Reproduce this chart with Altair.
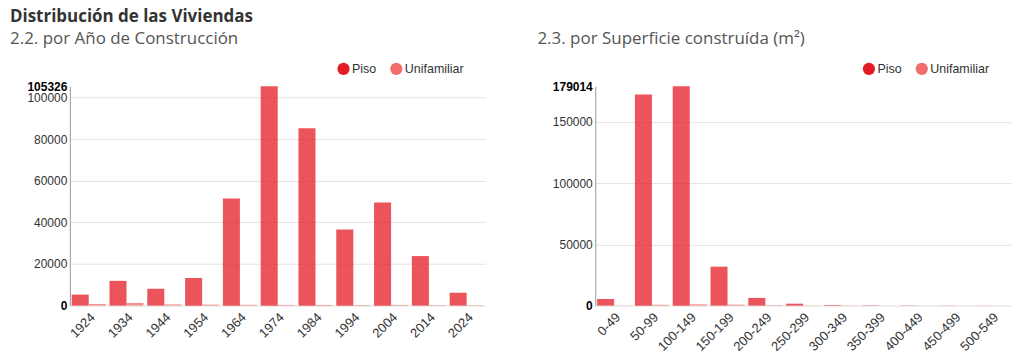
import altair as alt
import pandas as pd

# ---- data ----
years = ["1924", "1934", "1944", "1954", "1964", "1974", "1984", "1994", "2004", "2014", "2024"]
piso_year = [5300, 11900, 8100, 13300, 51500, 105326, 85200, 36500, 49500, 23800, 6200]
unif_year = [800, 1300, 600, 500, 400, 350, 300, 300, 350, 250, 200]

sizes = ["0-49", "50-99", "100-149", "150-199", "200-249", "250-299",
         "300-349", "350-399", "400-449", "450-499", "500-549"]
piso_size = [5400, 172300, 179014, 31800, 6300, 1600, 500, 300, 200, 150, 120]
unif_size = [200, 700, 1100, 800, 400, 200, 150, 100, 80, 60, 50]

tipos = ["Piso", "Unifamiliar"]
legend_colors = ["#e31b23", "#f26d6d"]

ticks_year = [0, 20000, 40000, 60000, 80000, 100000]
ticks_size = [0, 50000, 100000, 150000]

main_title = "Distribución de las Viviendas"
sub_year = "2.2. por Año de Construcción"
sub_size = "2.3. por Superficie construída (m²)"


def long_df(cats, a, b):
    rows = []
    for c, va, vb in zip(cats, a, b):
        rows.append({"cat": c, "tipo": tipos[0], "valor": va})
        rows.append({"cat": c, "tipo": tipos[1], "valor": vb})
    return pd.DataFrame(rows)


def panel(cats, a, b, ticks, subtitle, title_dx):
    ymax = max(a + b)
    df = long_df(cats, a, b)
    vals = ticks + [ymax]
    cond_bold = f"datum.value == 0 || datum.value == {ymax}"
    return alt.Chart(df).mark_bar(opacity=0.75).encode(
        x=alt.X("cat:N", sort=cats, title=None,
                scale=alt.Scale(paddingInner=0.1, paddingOuter=0.05),
                axis=alt.Axis(labelAngle=-45, domain=False, ticks=False,
                              labelFont="Liberation Sans", labelFontSize=13,
                              labelColor="#333", labelPadding=5)),
        xOffset=alt.XOffset("tipo:N", sort=tipos),
        y=alt.Y("valor:Q", title=None,
                scale=alt.Scale(domain=[0, ymax], nice=False),
                axis=alt.Axis(values=vals, format="d", ticks=False,
                              domainColor="#999", labelOverlap=False,
                              labelFont="Liberation Sans", labelFontSize=12,
                              labelPadding=3,
                              labelColor={"condition": {"test": cond_bold, "value": "#000"}, "value": "#333"},
                              labelFontWeight={"condition": {"test": cond_bold, "value": "bold"}, "value": "normal"},
                              gridColor="#e3e3e3",
                              gridOpacity={"condition": {"test": f"datum.value == {ymax}", "value": 0}, "value": 1})),
        color=alt.Color("tipo:N", sort=tipos,
                        scale=alt.Scale(domain=tipos, range=legend_colors),
                        legend=alt.Legend(orient="none", legendX=268, legendY=-24,
                                          direction="horizontal", title=None,
                                          symbolType="circle", symbolSize=150,
                                          symbolOpacity=1, symbolStrokeWidth=0,
                                          labelFont="Liberation Sans", labelFontSize=12.5,
                                          labelColor="#333", columnPadding=13,
                                          labelOffset=2)),
    ).properties(
        width=417, height=220,
        title=alt.TitleParams(text=subtitle, anchor="start", frame="group",
                              dx=title_dx, fontSize=17, fontWeight="normal",
                              font="Open Sans", color="#555", offset=14),
    )


left = panel(years, piso_year, unif_year, ticks_year, sub_year, -60)
right = panel(sizes, piso_size, unif_size, ticks_size, sub_size, -58)

chart = alt.hconcat(left, right, spacing=52).resolve_scale(
    color="independent"
).resolve_legend(color="independent").properties(
    title=alt.TitleParams(text=main_title, anchor="start", frame="group",
                          dx=-60, fontSize=17, fontWeight="bold",
                          font="Open Sans", color="#333", offset=4),
    padding={"left": 2, "top": 0, "right": 5, "bottom": 5},
).configure_view(stroke=None)

chart.save("out.html", embed_options={"renderer": "svg", "actions": False})
